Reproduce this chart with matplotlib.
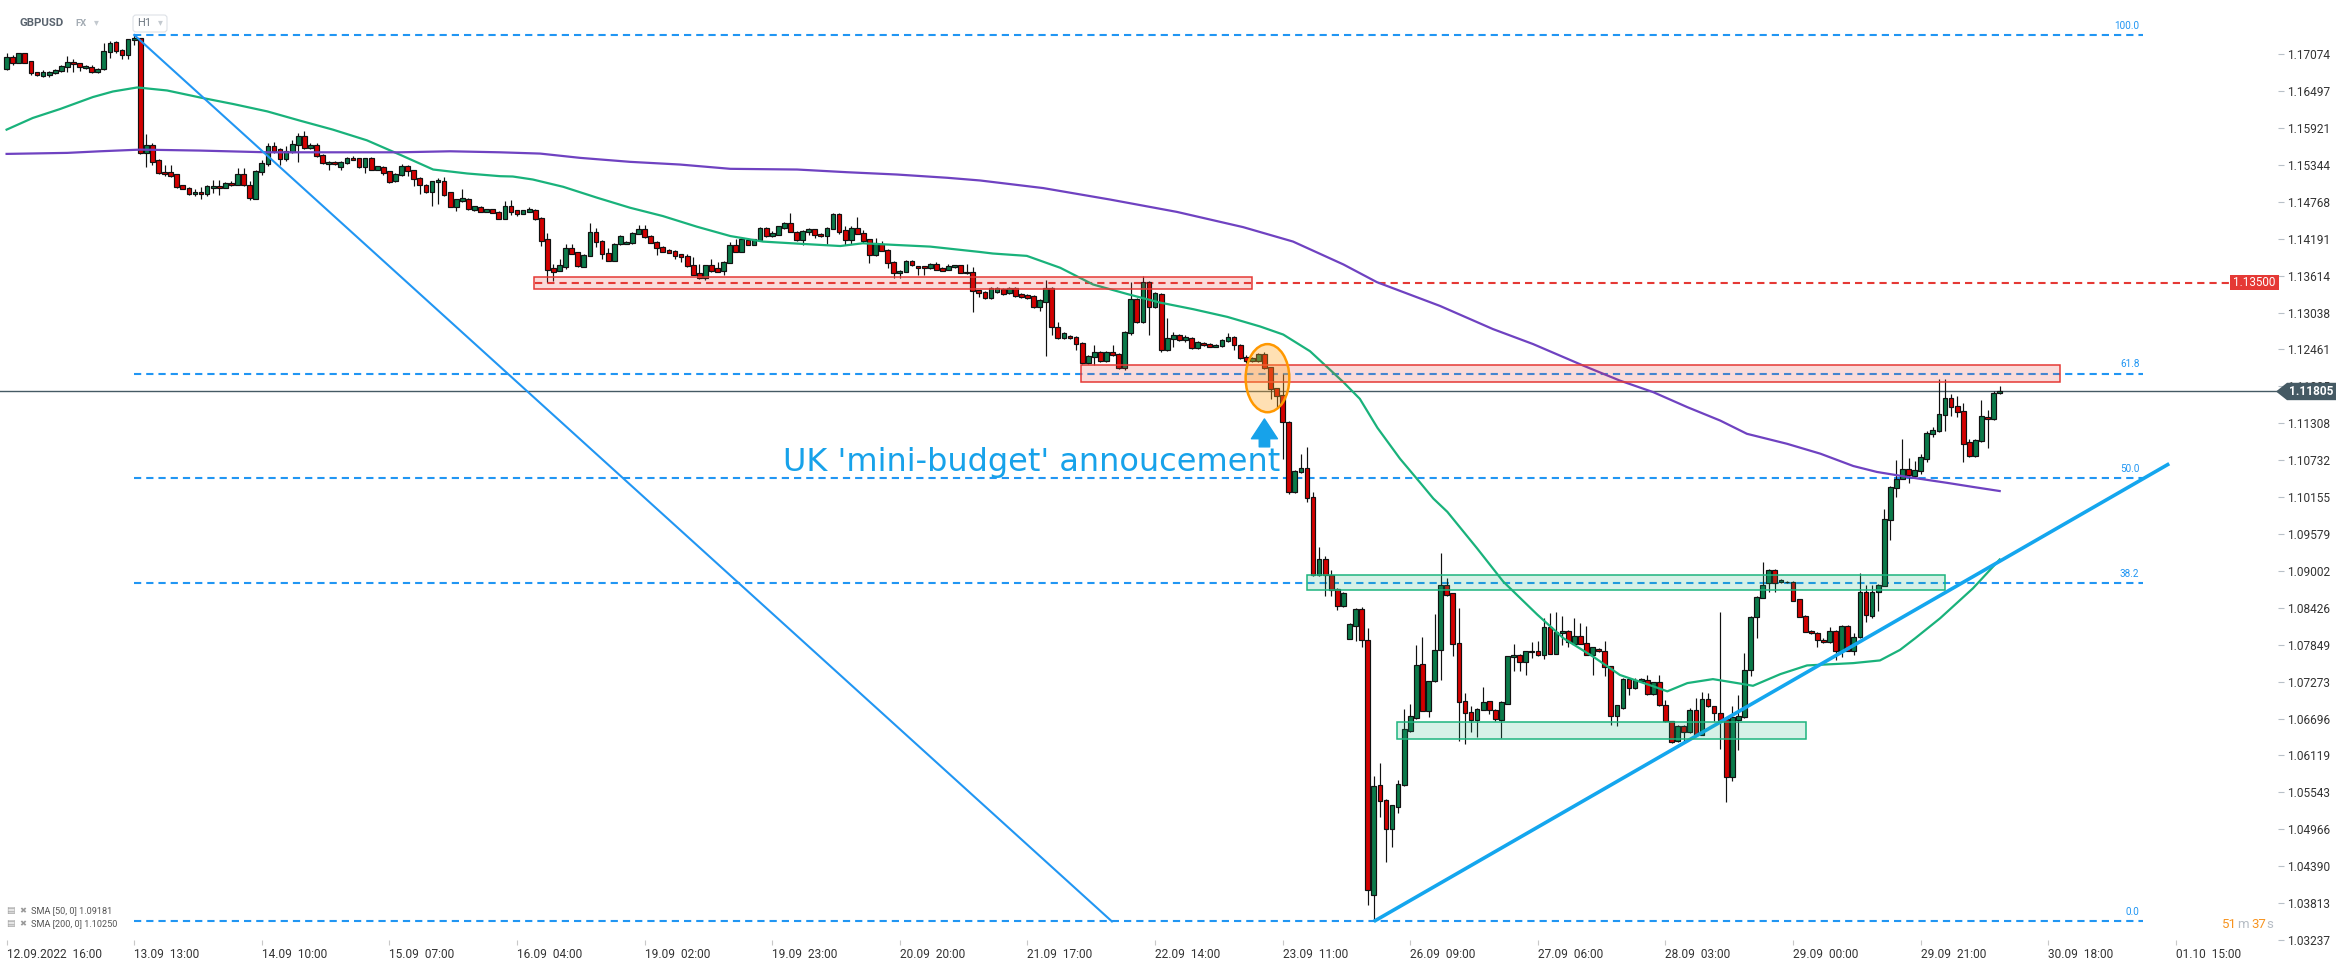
import matplotlib
matplotlib.use("Agg")
import matplotlib.pyplot as plt
import numpy as np
from matplotlib.patches import Rectangle, Ellipse, Polygon, FancyBboxPatch
from matplotlib.transforms import IdentityTransform

plt.rcParams['font.family'] = ['Roboto', 'DejaVu Sans']
plt.rcParams['lines.scale_dashes'] = False

W, H, DPI = 2346, 968, 100

# ---------------- data (GBPUSD H1) ----------------
opens = [
    1.16850, 1.17027, 1.16943, 1.17089, 1.16964, 1.16788, 1.16736, 1.16746, 1.16777, 1.16809,
    1.16876, 1.16949, 1.16933, 1.16855, 1.16881, 1.16788, 1.16835, 1.17104, 1.17260, 1.17141,
    1.17058, 1.17296, 1.17322, 1.15531, 1.15656, 1.15422, 1.15235, 1.15235, 1.15199, 1.15028,
    1.14986, 1.14893, 1.14924, 1.14893, 1.14991, 1.15022, 1.14991, 1.15064, 1.15038, 1.15209,
    1.15033, 1.14815, 1.15230, 1.15360, 1.15640, 1.15594, 1.15438, 1.15541, 1.15661, 1.15801,
    1.15609, 1.15656, 1.15500, 1.15360, 1.15391, 1.15313, 1.15375, 1.15453, 1.15448, 1.15313,
    1.15453, 1.15271, 1.15318, 1.15246, 1.15090, 1.15189, 1.15334, 1.15261, 1.15142, 1.15038,
    1.14919, 1.15074, 1.15095, 1.14914, 1.14690, 1.14778, 1.14815, 1.14638, 1.14691, 1.14613,
    1.14649, 1.14608, 1.14504, 1.14706, 1.14634, 1.14582, 1.14613, 1.14644, 1.14520, 1.14193,
    1.13726, 1.13694, 1.13757, 1.14042, 1.13980, 1.13757, 1.13928, 1.14302, 1.14162, 1.13975,
    1.13850, 1.14104, 1.14115, 1.14120, 1.14270, 1.14338, 1.14239, 1.14146, 1.14068, 1.14011,
    1.14006, 1.13949, 1.13928, 1.13788, 1.13648, 1.13570, 1.13778, 1.13726, 1.13689, 1.13819,
    1.14099, 1.13990, 1.14167, 1.14099, 1.14172, 1.14364, 1.14234, 1.14255, 1.14359, 1.14442,
    1.14302, 1.14172, 1.14302, 1.14338, 1.14270, 1.14234, 1.14348, 1.14582, 1.14322, 1.14172,
    1.14364, 1.14286, 1.14182, 1.13938, 1.14115, 1.14021, 1.13835, 1.13648, 1.13679, 1.13850,
    1.13762, 1.13762, 1.13726, 1.13804, 1.13726, 1.13710, 1.13746, 1.13778, 1.13679, 1.13679,
    1.13383, 1.13357, 1.13268, 1.13365, 1.13402, 1.13342, 1.13417, 1.13327, 1.13312, 1.13290,
    1.13119, 1.13208, 1.13417, 1.12820, 1.12634, 1.12671, 1.12657, 1.12567, 1.12254, 1.12344,
    1.12418, 1.12284, 1.12418, 1.12388, 1.12165, 1.12716, 1.13253, 1.12895, 1.13514, 1.13119,
    1.13327, 1.12455, 1.12619, 1.12686, 1.12612, 1.12642, 1.12485, 1.12567, 1.12545, 1.12507,
    1.12522, 1.12597, 1.12657, 1.12537, 1.12344, 1.12284, 1.12284, 1.12396, 1.12180, 1.11852,
    1.11747, 1.11330, 1.10234, 1.10547, 1.10614, 1.10160, 1.08945, 1.09191, 1.08945, 1.08721,
    1.08460, 1.07946, 1.08147, 1.08408, 1.07924, 1.03936, 1.05651, 1.05427, 1.04965, 1.05315,
    1.05651, 1.06508, 1.06709, 1.07546, 1.06819, 1.07276, 1.07770, 1.08782, 1.08652, 1.07884,
    1.06965, 1.06799, 1.06679, 1.06835, 1.06965, 1.06830, 1.06679, 1.06928, 1.07650, 1.07692,
    1.07577, 1.07728, 1.07759, 1.07681, 1.08133, 1.07707, 1.08029, 1.08066, 1.07863, 1.07993,
    1.07884, 1.07692, 1.07785, 1.07744, 1.07510, 1.06731, 1.06861, 1.07313, 1.07172, 1.07276,
    1.07292, 1.07079, 1.07261, 1.06913, 1.06653, 1.06342, 1.06575, 1.06482, 1.06825, 1.06446,
    1.07006, 1.06887, 1.06783, 1.06695, 1.05786, 1.06679, 1.06716, 1.07458, 1.08289, 1.08585,
    1.08818, 1.09016, 1.08824, 1.08824, 1.08834, 1.08559, 1.08304, 1.08066, 1.08040, 1.07925,
    1.07889, 1.08071, 1.07744, 1.08148, 1.07759, 1.07967, 1.08678, 1.08304, 1.08678, 1.08772,
    1.09794, 1.10298, 1.10443, 1.10589, 1.10485, 1.10563, 1.10755, 1.11134, 1.11186, 1.11430,
    1.11700, 1.11575, 1.11497, 1.11015, 1.10796, 1.11030, 1.11404, 1.11368, 1.11783,
]
highs = [
    1.17089, 1.17063, 1.17099, 1.17099, 1.16964, 1.16798, 1.16819, 1.16814, 1.16835, 1.16897,
    1.17047, 1.16995, 1.16943, 1.16912, 1.16897, 1.16855, 1.17245, 1.17281, 1.17286, 1.17151,
    1.17317, 1.17374, 1.17333, 1.15832, 1.15687, 1.15438, 1.15344, 1.15344, 1.15209, 1.15038,
    1.14996, 1.14960, 1.14996, 1.15033, 1.15105, 1.15105, 1.15079, 1.15100, 1.15292, 1.15297,
    1.15090, 1.15261, 1.15427, 1.15687, 1.15708, 1.15604, 1.15645, 1.15728, 1.15843, 1.15879,
    1.15687, 1.15687, 1.15510, 1.15412, 1.15401, 1.15401, 1.15469, 1.15479, 1.15458, 1.15458,
    1.15464, 1.15334, 1.15328, 1.15256, 1.15220, 1.15365, 1.15350, 1.15271, 1.15152, 1.15048,
    1.15095, 1.15142, 1.15157, 1.14924, 1.14815, 1.14971, 1.14825, 1.14710, 1.14701, 1.14660,
    1.14660, 1.14618, 1.14774, 1.14789, 1.14644, 1.14644, 1.14686, 1.14655, 1.14530, 1.14286,
    1.13793, 1.13881, 1.14104, 1.14104, 1.13990, 1.13959, 1.14442, 1.14364, 1.14172, 1.14053,
    1.14125, 1.14250, 1.14156, 1.14296, 1.14400, 1.14400, 1.14250, 1.14156, 1.14078, 1.14037,
    1.14016, 1.13959, 1.13949, 1.13902, 1.13793, 1.13788, 1.13881, 1.13835, 1.13845, 1.14146,
    1.14193, 1.14193, 1.14203, 1.14193, 1.14374, 1.14380, 1.14312, 1.14395, 1.14452, 1.14587,
    1.14312, 1.14328, 1.14354, 1.14348, 1.14281, 1.14374, 1.14592, 1.14592, 1.14385, 1.14390,
    1.14535, 1.14322, 1.14193, 1.14198, 1.14156, 1.14032, 1.13845, 1.13705, 1.13860, 1.13860,
    1.13772, 1.13772, 1.13809, 1.13835, 1.13746, 1.13793, 1.13788, 1.13788, 1.13793, 1.13752,
    1.13393, 1.13372, 1.13432, 1.13432, 1.13417, 1.13432, 1.13432, 1.13342, 1.13327, 1.13305,
    1.13245, 1.13551, 1.13432, 1.12895, 1.12731, 1.12686, 1.12671, 1.12582, 1.12373, 1.12530,
    1.12433, 1.12433, 1.12530, 1.12403, 1.12746, 1.13514, 1.13268, 1.13610, 1.13529, 1.13365,
    1.13342, 1.12955, 1.12731, 1.12701, 1.12694, 1.12657, 1.12597, 1.12582, 1.12560, 1.12552,
    1.12627, 1.12716, 1.12671, 1.12552, 1.12373, 1.12336, 1.12411, 1.12418, 1.12194, 1.11866,
    1.12075, 1.11345, 1.10585, 1.10823, 1.10942, 1.10234, 1.09377, 1.09228, 1.09019, 1.08736,
    1.08677, 1.08185, 1.08423, 1.08446, 1.08110, 1.05800, 1.06008, 1.05442, 1.05353, 1.05740,
    1.06843, 1.06918, 1.07849, 1.07977, 1.07287, 1.08325, 1.09275, 1.08896, 1.08663, 1.08419,
    1.07095, 1.06897, 1.06861, 1.07183, 1.06975, 1.06840, 1.06965, 1.07676, 1.07868, 1.07702,
    1.07754, 1.07889, 1.07910, 1.08273, 1.08341, 1.08367, 1.08304, 1.08076, 1.08263, 1.08185,
    1.08148, 1.07816, 1.07795, 1.07915, 1.07520, 1.06913, 1.07323, 1.07323, 1.07328, 1.07323,
    1.07380, 1.07271, 1.07380, 1.06991, 1.06664, 1.06596, 1.06601, 1.06861, 1.07017, 1.07105,
    1.07095, 1.06897, 1.08367, 1.06705, 1.06887, 1.07069, 1.07718, 1.08299, 1.08611, 1.09135,
    1.09026, 1.09026, 1.08870, 1.08844, 1.08844, 1.08569, 1.08315, 1.08076, 1.08050, 1.07962,
    1.08133, 1.08081, 1.08159, 1.08159, 1.08029, 1.08964, 1.08782, 1.08782, 1.08792, 1.09976,
    1.10324, 1.10739, 1.11066, 1.10770, 1.10719, 1.10833, 1.11181, 1.11243, 1.12001, 1.12001,
    1.11767, 1.11741, 1.11627, 1.11066, 1.11061, 1.11674, 1.11523, 1.11819, 1.11887,
]
lows = [
    1.16829, 1.16907, 1.16933, 1.16933, 1.16751, 1.16731, 1.16725, 1.16715, 1.16767, 1.16798,
    1.16803, 1.16793, 1.16814, 1.16845, 1.16772, 1.16777, 1.16829, 1.17021, 1.17089, 1.16995,
    1.16995, 1.17219, 1.15521, 1.15313, 1.15350, 1.15204, 1.15168, 1.15157, 1.14986, 1.14960,
    1.14877, 1.14856, 1.14815, 1.14856, 1.14908, 1.14872, 1.14981, 1.15017, 1.15028, 1.15017,
    1.14794, 1.14804, 1.15183, 1.15323, 1.15531, 1.15350, 1.15401, 1.15531, 1.15386, 1.15599,
    1.15599, 1.15474, 1.15365, 1.15271, 1.15350, 1.15271, 1.15365, 1.15417, 1.15303, 1.15220,
    1.15261, 1.15261, 1.15194, 1.15069, 1.15079, 1.15178, 1.15168, 1.15022, 1.14882, 1.14908,
    1.14700, 1.14726, 1.14861, 1.14679, 1.14622, 1.14768, 1.14638, 1.14628, 1.14602, 1.14602,
    1.14587, 1.14494, 1.14494, 1.14556, 1.14545, 1.14571, 1.14602, 1.14483, 1.14078, 1.13508,
    1.13534, 1.13684, 1.13715, 1.13949, 1.13757, 1.13746, 1.13917, 1.14068, 1.13881, 1.13840,
    1.13840, 1.14094, 1.14104, 1.14110, 1.14260, 1.14203, 1.14120, 1.13938, 1.13980, 1.13964,
    1.13881, 1.13835, 1.13746, 1.13622, 1.13560, 1.13549, 1.13679, 1.13669, 1.13627, 1.13809,
    1.13980, 1.13980, 1.14089, 1.14089, 1.14162, 1.14224, 1.14224, 1.14244, 1.14348, 1.14291,
    1.14162, 1.14094, 1.14255, 1.14208, 1.14224, 1.14104, 1.14338, 1.14270, 1.14089, 1.14115,
    1.14260, 1.14130, 1.13819, 1.13928, 1.13995, 1.13726, 1.13570, 1.13585, 1.13669, 1.13772,
    1.13627, 1.13627, 1.13715, 1.13700, 1.13684, 1.13700, 1.13736, 1.13648, 1.13637, 1.13040,
    1.13284, 1.13253, 1.13253, 1.13350, 1.13312, 1.13327, 1.13283, 1.13260, 1.13253, 1.13104,
    1.13066, 1.12358, 1.12694, 1.12619, 1.12619, 1.12619, 1.12455, 1.12232, 1.12239, 1.12224,
    1.12269, 1.12269, 1.12358, 1.12150, 1.12135, 1.12686, 1.12880, 1.12880, 1.12694, 1.13104,
    1.12418, 1.12440, 1.12507, 1.12597, 1.12582, 1.12470, 1.12470, 1.12515, 1.12493, 1.12493,
    1.12507, 1.12582, 1.12455, 1.12306, 1.12247, 1.12269, 1.12269, 1.12150, 1.11688, 1.11553,
    1.10756, 1.10197, 1.10219, 1.10532, 1.10085, 1.08930, 1.08930, 1.08617, 1.08617, 1.08393,
    1.08446, 1.07931, 1.07901, 1.07812, 1.03787, 1.03527, 1.05166, 1.04458, 1.04697, 1.05218,
    1.05636, 1.06493, 1.06694, 1.06809, 1.06716, 1.07266, 1.07302, 1.08616, 1.07676, 1.06352,
    1.06306, 1.06482, 1.06409, 1.06825, 1.06773, 1.06664, 1.06394, 1.06918, 1.07442, 1.07442,
    1.07380, 1.07640, 1.07671, 1.07624, 1.07697, 1.07697, 1.07847, 1.07821, 1.07853, 1.07853,
    1.07681, 1.07380, 1.07733, 1.07354, 1.06601, 1.06586, 1.06851, 1.07058, 1.07162, 1.07266,
    1.07069, 1.07069, 1.06892, 1.06643, 1.06316, 1.06331, 1.06342, 1.06472, 1.06435, 1.06435,
    1.06877, 1.06653, 1.06222, 1.05392, 1.05719, 1.06202, 1.06705, 1.07354, 1.07951, 1.08574,
    1.08678, 1.08678, 1.08813, 1.08813, 1.08528, 1.08278, 1.08045, 1.08019, 1.07821, 1.07879,
    1.07879, 1.07614, 1.07650, 1.07749, 1.07692, 1.07956, 1.08211, 1.08263, 1.08377, 1.08761,
    1.09483, 1.10158, 1.10433, 1.10376, 1.10475, 1.10511, 1.10703, 1.11087, 1.11175, 1.11181,
    1.11419, 1.11399, 1.10703, 1.10786, 1.10786, 1.11020, 1.10921, 1.11352, 1.11773,
]
closes = [
    1.17027, 1.16943, 1.17089, 1.16943, 1.16777, 1.16741, 1.16803, 1.16793, 1.16824, 1.16886,
    1.16949, 1.16917, 1.16871, 1.16891, 1.16788, 1.16840, 1.17120, 1.17245, 1.17120, 1.17058,
    1.17307, 1.17333, 1.15531, 1.15656, 1.15386, 1.15220, 1.15199, 1.15168, 1.15002, 1.14971,
    1.14893, 1.14924, 1.14893, 1.15022, 1.15022, 1.14991, 1.15064, 1.15028, 1.15209, 1.15028,
    1.14825, 1.15251, 1.15375, 1.15640, 1.15562, 1.15438, 1.15557, 1.15671, 1.15801, 1.15609,
    1.15656, 1.15484, 1.15375, 1.15391, 1.15360, 1.15391, 1.15448, 1.15427, 1.15313, 1.15448,
    1.15271, 1.15323, 1.15220, 1.15079, 1.15209, 1.15334, 1.15246, 1.15126, 1.15028, 1.14919,
    1.15085, 1.15105, 1.14872, 1.14690, 1.14804, 1.14820, 1.14648, 1.14700, 1.14613, 1.14649,
    1.14597, 1.14504, 1.14706, 1.14613, 1.14582, 1.14634, 1.14649, 1.14504, 1.14156, 1.13710,
    1.13679, 1.13778, 1.14042, 1.13959, 1.13767, 1.13943, 1.14302, 1.14146, 1.13959, 1.13850,
    1.14115, 1.14239, 1.14146, 1.14286, 1.14338, 1.14224, 1.14130, 1.14047, 1.13990, 1.13975,
    1.13923, 1.13907, 1.13767, 1.13632, 1.13570, 1.13778, 1.13689, 1.13679, 1.13835, 1.14099,
    1.13990, 1.14182, 1.14099, 1.14182, 1.14364, 1.14234, 1.14286, 1.14385, 1.14442, 1.14302,
    1.14172, 1.14317, 1.14338, 1.14255, 1.14234, 1.14364, 1.14582, 1.14302, 1.14172, 1.14364,
    1.14270, 1.14156, 1.13938, 1.14130, 1.14006, 1.13819, 1.13648, 1.13694, 1.13850, 1.13783,
    1.13726, 1.13726, 1.13798, 1.13710, 1.13694, 1.13762, 1.13778, 1.13658, 1.13648, 1.13368,
    1.13336, 1.13268, 1.13417, 1.13417, 1.13327, 1.13417, 1.13297, 1.13275, 1.13268, 1.13119,
    1.13230, 1.13417, 1.12806, 1.12634, 1.12716, 1.12634, 1.12545, 1.12254, 1.12358, 1.12418,
    1.12284, 1.12418, 1.12373, 1.12165, 1.12731, 1.13253, 1.12895, 1.13514, 1.13119, 1.13350,
    1.12455, 1.12634, 1.12694, 1.12612, 1.12657, 1.12485, 1.12582, 1.12530, 1.12507, 1.12537,
    1.12612, 1.12657, 1.12537, 1.12321, 1.12284, 1.12321, 1.12396, 1.12165, 1.11837, 1.11740,
    1.11330, 1.10234, 1.10570, 1.10614, 1.10137, 1.08945, 1.09191, 1.08945, 1.08706, 1.08460,
    1.08662, 1.08170, 1.08408, 1.07924, 1.04011, 1.05636, 1.05405, 1.04965, 1.05338, 1.05666,
    1.06530, 1.06731, 1.07529, 1.06819, 1.07276, 1.07770, 1.08782, 1.08626, 1.07863, 1.06954,
    1.06783, 1.06679, 1.06851, 1.06954, 1.06835, 1.06695, 1.06954, 1.07666, 1.07692, 1.07572,
    1.07744, 1.07754, 1.07681, 1.08133, 1.07707, 1.08045, 1.08066, 1.07899, 1.07993, 1.07863,
    1.07692, 1.07806, 1.07744, 1.07494, 1.06731, 1.06902, 1.07313, 1.07172, 1.07292, 1.07313,
    1.07079, 1.07261, 1.06902, 1.06653, 1.06331, 1.06586, 1.06482, 1.06825, 1.06446, 1.07006,
    1.06887, 1.06783, 1.06679, 1.05786, 1.06721, 1.06731, 1.07458, 1.08289, 1.08600, 1.08782,
    1.09016, 1.08808, 1.08860, 1.08834, 1.08538, 1.08289, 1.08055, 1.08029, 1.07920, 1.07889,
    1.08071, 1.07744, 1.08148, 1.07759, 1.07977, 1.08668, 1.08315, 1.08678, 1.08782, 1.09810,
    1.10314, 1.10443, 1.10589, 1.10495, 1.10573, 1.10781, 1.11155, 1.11207, 1.11451, 1.11700,
    1.11560, 1.11482, 1.10983, 1.10796, 1.11051, 1.11419, 1.11368, 1.11783, 1.11805,
]

# moving averages read at bar positions
sma50_idx = [0, 4.3, 8.8, 14.2, 17.5, 21.5, 26.4, 31.8, 37.3, 42.9, 48.3, 53.7, 59.3, 64.7,
             70.2, 75.8, 81.2, 83.3, 86.6, 91.6, 97.2, 102.6, 108.0, 113.6, 119.1, 124.5,
             130.1, 137.2, 140.9, 146.5, 152.0, 160.2, 162.3, 167.9, 173.4, 178.8, 184.4,
             189.8, 195.3, 200.9, 206.3, 210.1, 214.5, 220.0, 222.7, 225.6, 229.3, 232.6,
             234.8, 237.1, 242.0, 246.3, 251.9, 256.2, 261.1, 265.5, 271.0, 273.3, 276.6,
             280.8, 284.8, 287.4, 291.9, 296.3, 303.9, 308.3, 311.6, 314.1, 318.2, 323.6, 328.0]
sma50_val = [1.15895, 1.16077, 1.16217, 1.16404, 1.16491, 1.16554, 1.16507, 1.16398, 1.16295,
             1.16180, 1.16035, 1.15895, 1.15728, 1.15505, 1.15272, 1.15210, 1.15168, 1.15163,
             1.15116, 1.15002, 1.14831, 1.14675, 1.14545, 1.14379, 1.14233, 1.14146, 1.14115,
             1.14077, 1.14120, 1.14093, 1.14068, 1.13984, 1.13960, 1.13923, 1.13737, 1.13476,
             1.13328, 1.13194, 1.13090, 1.12970, 1.12820, 1.12694, 1.12434, 1.11950, 1.11690,
             1.11237, 1.10756, 1.10384, 1.10132, 1.09925, 1.09354, 1.08835, 1.08320, 1.07951,
             1.07663, 1.07377, 1.07199, 1.07121, 1.07250, 1.07312, 1.07250, 1.07208, 1.07390,
             1.07526, 1.07562, 1.07604, 1.07769, 1.07951, 1.08263, 1.08730, 1.09181]
sma200_idx = [0, 10, 15.4, 22, 31.8, 42.9, 53.7, 64.7, 73, 81.2, 87.8, 94.4, 102.6, 110.8,
              119.1, 130.1, 138.3, 146.5, 154.8, 160.2, 170.6, 181.6, 192.6, 203.5, 211.7,
              220, 225.5, 235.9, 244.6, 251.2, 259.5, 265.5, 271, 276.6, 282, 286.4, 293,
              298.5, 303.9, 307.8, 312.8, 319.4, 323.6, 328]
sma200_val = [1.15516, 1.15532, 1.15557, 1.15583, 1.15568, 1.15541, 1.15541, 1.15541, 1.15557,
              1.15541, 1.15521, 1.15454, 1.15392, 1.15350, 1.15283, 1.15272, 1.15230, 1.15194,
              1.15143, 1.15101, 1.14982, 1.14803, 1.14610, 1.14372, 1.14147, 1.13789, 1.13513,
              1.13141, 1.12780, 1.12546, 1.12208, 1.11975, 1.11794, 1.11560, 1.11351, 1.11144,
              1.10988, 1.10833, 1.10641, 1.10548, 1.10470, 1.10377, 1.10314, 1.10250]

fib_levels = [1.17374, 1.12084, 1.10451, 1.08817, 1.03527]
fib_labels = ['100.0', '61.8', '50.0', '38.2', '0.0']
resistance_level = 1.13500
last_price = 1.11805
sma50_last = 1.09181
sma200_last = 1.10250

# zones: (start bar, end bar, low price, high price)
red_zones = [(86.8, 205.0, 1.13398, 1.13601), (176.8, 338.0, 1.11949, 1.12219)]
green_zones = [(214.0, 319.0, 1.08707, 1.08940), (228.8, 296.1, 1.06378, 1.06638)]
downtrend_bars = [21, 181.9]
downtrend_px = [1.17374, 1.03527]
uptrend_bars = [225, 355.9]
uptrend_px = [1.03527, 1.10677]

ytick_vals = [1.03237, 1.03813, 1.04390, 1.04966, 1.05543, 1.06119, 1.06696, 1.07273,
              1.07849, 1.08426, 1.09002, 1.09579, 1.10155, 1.10732, 1.11308, 1.11885,
              1.12461, 1.13038, 1.13614, 1.14191, 1.14768, 1.15344, 1.15921, 1.16497, 1.17074]
time_labels = ['12.09.2022  16:00', '13.09  13:00', '14.09  10:00', '15.09  07:00',
               '16.09  04:00', '19.09  02:00', '19.09  23:00', '20.09  20:00',
               '21.09  17:00', '22.09  14:00', '23.09  11:00', '26.09  09:00',
               '27.09  06:00', '28.09  03:00', '29.09  00:00', '29.09  21:00',
               '30.09  18:00', '01.10  15:00']
bars_per_label = 21

# ---------------- figure ----------------
fig = plt.figure(figsize=(W / DPI, H / DPI), dpi=DPI)
fig.patch.set_facecolor('white')
ax = fig.add_axes([0, 28 / H, 2278 / W, 940 / H])
ax.set_xlim(-1.086, 373.8)
ax.set_ylim(1.03279, 1.17920)
for s in ax.spines.values():
    s.set_visible(False)

O = np.array(opens); Hh = np.array(highs); L = np.array(lows); C = np.array(closes)
idx = np.arange(len(C))
up = C >= O
body_bot = np.minimum(O, C)
body_h = np.maximum(np.abs(C - O), 0.00007)
cols = np.where(up, '#0b7a4a', '#d40000')

BLUE = '#2196f3'
DASH = (5.2, 3.6)

# fib lines
for lvl, lab in zip(fib_levels, fib_labels):
    ax.plot([21, 351.6], [lvl, lvl], color=BLUE, lw=1.5, dashes=DASH, zorder=2)
    ax.annotate(lab, xy=(351.0, lvl), xytext=(0, 3), textcoords='offset points',
                ha='right', va='bottom', fontsize=7.2, color=BLUE, zorder=8)

# resistance dashed red
ax.plot([87, 365.9], [resistance_level] * 2, color='#e53935', lw=1.5, dashes=DASH, zorder=2)
# current price line
ax.axhline(last_price, color='#455a64', lw=1.0, zorder=2)

# candles
ax.vlines(idx, L, Hh, color='#111111', lw=0.85, zorder=4)
ax.bar(idx, body_h, bottom=body_bot, width=0.78, color=cols, edgecolor='#111111',
       linewidth=0.85, zorder=4.5)

# moving averages
ax.plot(sma50_idx, sma50_val, color='#19b27b', lw=1.6, zorder=5)
ax.plot(sma200_idx, sma200_val, color='#6f42c1', lw=1.6, zorder=5)

# trend lines
ax.plot(downtrend_bars, downtrend_px, color=BLUE, lw=1.5, zorder=5.5)
ax.plot(uptrend_bars, uptrend_px, color='#14a6ee', lw=2.6, zorder=5.5, solid_capstyle='butt')

# zones
for x0, x1, y0, y1 in red_zones:
    ax.add_patch(Rectangle((x0, y0), x1 - x0, y1 - y0, facecolor=(0.898, 0.224, 0.208, 0.18),
                           edgecolor='#e53935', lw=1.1, zorder=6))
for x0, x1, y0, y1 in green_zones:
    ax.add_patch(Rectangle((x0, y0), x1 - x0, y1 - y0, facecolor=(0.114, 0.706, 0.494, 0.18),
                           edgecolor='#1db47e', lw=1.1, zorder=6))

# highlight ellipse
ax.add_patch(Ellipse((207.5, 1.12013), 7.19, 0.01064, facecolor=(1.0, 0.655, 0.15, 0.35),
                     edgecolor='#ff9800', lw=1.8, zorder=7))

# annotation
ax.annotate('', xy=(207.0, 1.11376), xytext=(207.0, 1.10940),
            arrowprops=dict(arrowstyle='simple,head_length=0.95,head_width=1.25,tail_width=0.5',
                            mutation_scale=15, color='#17a2ea', shrinkA=0, shrinkB=0), zorder=8)
ax.text(209.6, 1.10568, "UK 'mini-budget' annoucement", ha='right', va='baseline',
        fontsize=23, family='DejaVu Sans', color='#17a2ea', zorder=8)

# axes ticks
ax.yaxis.tick_right()
ax.set_yticks(ytick_vals)
ax.set_yticklabels([f'{v:.5f}' for v in ytick_vals])
ax.tick_params(axis='y', direction='out', length=4.3, width=0.8, color='#b8c0c8', pad=2,
               labelsize=8.6, labelcolor='#333333')
ax.set_xticks(np.arange(len(time_labels)) * bars_per_label)
ax.set_xticklabels(time_labels)
for t in ax.get_xticklabels():
    t.set_ha('left')
ax.tick_params(axis='x', direction='out', length=3.5, width=0.8, color='#c8c8c8', pad=2.5,
               labelsize=8.6, labelcolor='#333333')

# ---------------- right-side labels (display pixels) ----------------
ID = IdentityTransform()


def ydisp(p):
    return ax.transData.transform((0, p))[1]


yr = ydisp(resistance_level)
fig.add_artist(Rectangle((2230, yr - 7.5), 49, 15, transform=ID, facecolor='#e53935',
                         edgecolor='none', zorder=5))
fig.text(2254.5, yr, f'{resistance_level:.5f}', transform=ID, ha='center', va='center',
         color='white', fontsize=8.4, zorder=6)

yc = ydisp(last_price)
fig.add_artist(Polygon([(2276, yc), (2287, yc + 8.7), (2336, yc + 8.7), (2336, yc - 8.7),
                        (2287, yc - 8.7)], closed=True, transform=ID, facecolor='#455a64',
                       edgecolor='none', zorder=5))
fig.text(2311.5, yc, f'{last_price:.5f}', transform=ID, ha='center', va='center',
         color='white', fontsize=8.6, fontweight='bold', zorder=6)

# countdown
yt = H - 924
fig.text(2222, yt, '51', transform=ID, ha='left', va='center', color='#f7931e', fontsize=9.5, zorder=6)
fig.text(2237, yt, 'm', transform=ID, ha='left', va='center', color='#b5bcc4', fontsize=9.5, zorder=6)
fig.text(2251, yt, '37', transform=ID, ha='left', va='center', color='#f7931e', fontsize=9.5, zorder=6)
fig.text(2266, yt, 's', transform=ID, ha='left', va='center', color='#b5bcc4', fontsize=9.5, zorder=6)

# header
fig.text(20, H - 23, 'GBPUSD', transform=ID, ha='left', va='center', color='#59636e',
         fontsize=8.2, fontweight='bold')
fig.text(75, H - 23, 'FX', transform=ID, ha='left', va='center', color='#a3abb3',
         fontsize=6.8, fontweight='bold')
fig.text(96, H - 22, '▾', transform=ID, ha='center', va='center', color='#c3c9cf',
         fontsize=7, family='DejaVu Sans')
fig.add_artist(FancyBboxPatch((133, H - 32), 34, 17, boxstyle='round,pad=0,rounding_size=3',
                              transform=ID, facecolor='white', edgecolor='#dde1e6', lw=0.8))
fig.text(137, H - 23.5, 'H1', transform=ID, ha='left', va='center', color='#6d7781', fontsize=8)
fig.text(160, H - 22.5, '▾', transform=ID, ha='center', va='center', color='#c3c9cf',
         fontsize=7, family='DejaVu Sans')

# indicator legend
for row_y, name, val in [(910.7, 'SMA [50, 0]', sma50_last), (923.7, 'SMA [200, 0]', sma200_last)]:
    fig.text(6, H - row_y, '▤', transform=ID, ha='left', va='center', color='#9a9a9a',
             fontsize=6.5, family='DejaVu Sans')
    fig.text(19, H - row_y, '✖', transform=ID, ha='left', va='center', color='#9a9a9a',
             fontsize=6, family='DejaVu Sans')
    fig.text(31, H - row_y, f'{name} {val:.5f}', transform=ID, ha='left', va='center',
             color='#555555', fontsize=6.6)

fig.savefig('out.png', dpi=DPI)
